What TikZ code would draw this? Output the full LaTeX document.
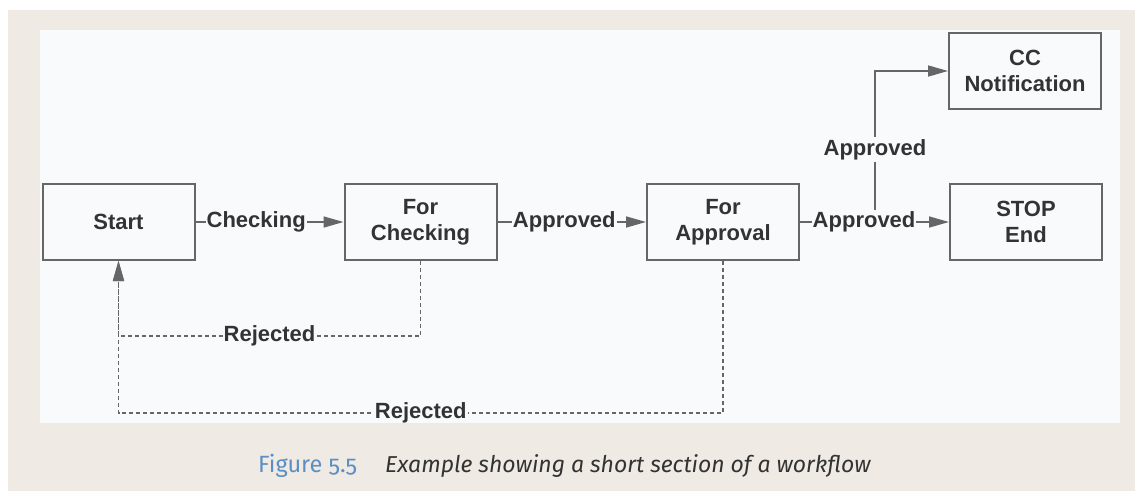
\documentclass[tikz,border=0pt]{standalone}
\usepackage{fontspec}
\setmainfont{Liberation Sans}
\newfontfamily\capfont[Numbers=OldStyle]{Fira Sans}
\usetikzlibrary{arrows.meta}

\definecolor{pagebg}{HTML}{F0EAE4}
\definecolor{panelbg}{HTML}{F8FAFC}
\definecolor{inkline}{HTML}{666666}
\definecolor{inktext}{HTML}{333333}
\definecolor{figblue}{HTML}{5B8FC4}

\tikzset{
  state/.style={draw=inkline, line width=2pt, fill=panelbg,
    minimum width=152pt, minimum height=76pt, inner sep=0pt,
    align=center, text=inktext,
    font=\bfseries\fontsize{22}{26}\selectfont},
  flow/.style={draw=inkline, line width=1.6pt,
    -{Triangle[length=20pt,width=11pt]}},
  reject/.style={draw=inkline, line width=1.4pt, dash pattern=on 4pt off 3pt,
    -{Triangle[length=20pt,width=11pt]}},
  lbl/.style={fill=panelbg, inner xsep=1pt, inner ysep=2pt, text=inktext,
    font=\bfseries\fontsize{22}{26}\selectfont},
}

\begin{document}
\begin{tikzpicture}[x=1pt, y=-1pt]
  % page and figure panel
  \fill[white] (0,0) rectangle (1135,491);
  \fill[pagebg] (8,10) rectangle (1135,491);
  \fill[panelbg] (40,30) rectangle (1120,423);
  \useasboundingbox (0,0) rectangle (1135,491);

  % states
  \node[state] (start) at (118.5,222) {Start};
  \node[state] (fc)    at (420.5,222) {For\\Checking};
  \node[state] (fa)    at (723,222)   {For\\Approval};
  \node[state] (stop)  at (1026,222)  {STOP\\End};
  \node[state] (cc)    at (1025,71)   {CC\\Notification};

  % branch to the notification
  \coordinate (br) at (875,222);
  \draw[flow] (br) |- node[lbl, pos=0.24] {Approved} (cc.west);

  % forward transitions
  \draw[flow] (start.east) -- node[lbl, pos=0.41] {Checking} (fc.west);
  \draw[flow] (fc.east) -- node[lbl, pos=0.45] {Approved} (fa.west);
  \draw[flow] (fa.east) -- node[lbl, pos=0.43] {Approved} (stop.west);

  % rejections back to the start
  \coordinate (rjA) at (0,336);
  \coordinate (rjB) at (0,413);
  \draw[reject] (fa.south) -- (fa.south |- rjB)
    -- node[lbl, inner ysep=0pt] {Rejected} (start.south |- rjB) -- (start.south);
  \draw[reject] (fc.south) -- (fc.south |- rjA)
    -- node[lbl, inner ysep=0pt] {Rejected} (start.south |- rjA) -- (start.south);

  % caption
  \node[anchor=west, inner sep=0pt, text=figblue,
        font=\capfont\fontsize{23.5}{26}\selectfont] (fignum) at (258,466) {Figure 5.5};
  \node[anchor=west, inner sep=0pt, text=inktext,
        font=\capfont\itshape\fontsize{23}{26}\selectfont] (captxt) at (385,466)
        {Example showing a short section of a workflow};
\end{tikzpicture}
\end{document}
